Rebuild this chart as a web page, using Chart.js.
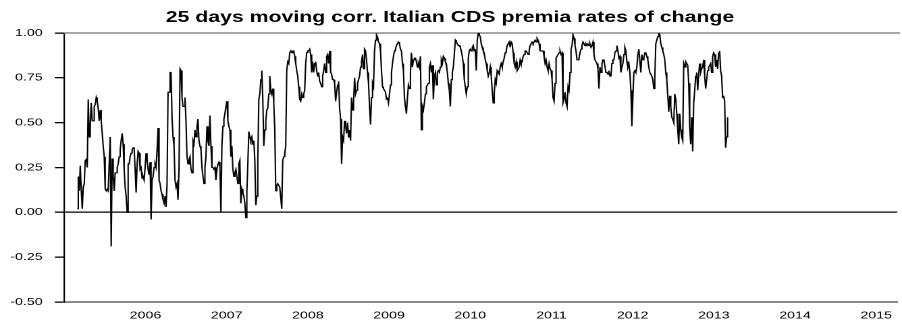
<!DOCTYPE html>
<html>
<head>
<meta charset="utf-8">
<script src="https://cdn.jsdelivr.net/npm/chart.js@4.4.0/dist/chart.umd.min.js"></script>
<style>
  html, body { margin: 0; padding: 0; background: #fff; overflow: hidden; }
  #wrap { position: absolute; left: 0; top: 0; width: 668px; height: 329px;
          transform: scaleX(1.3503); transform-origin: 0 0; }
</style>
</head>
<body>
<div id="wrap"><canvas id="c" width="668" height="329"></canvas></div>
<script>
// 25-day moving correlation of Italian CDS premia rates of change (daily observations)
const chartTitle = '25 days moving corr. Italian CDS premia rates of change';

// first and last observation, as decimal years
const firstObsYear = 2005.16;
const lastObsYear = 2013.17;

const corr2005_2007 = [
  0.02,0.20,0.12,0.26,0.12,0.02,0.14,0.16,0.29,0.30,
  0.25,0.63,0.42,0.48,0.61,0.51,0.51,0.59,0.60,0.64,
  0.62,0.58,0.51,0.57,0.51,0.44,0.37,0.31,0.13,0.12,
  0.13,0.12,0.12,0.42,-0.19,0.30,0.20,0.12,0.22,0.22,
  0.25,0.27,0.31,0.35,0.40,0.44,0.38,0.24,0.14,0.09,
  0.00,0.27,0.27,0.31,0.33,0.35,0.36,0.36,0.24,0.11,
  0.27,0.34,0.33,0.24,0.25,0.19,0.20,0.18,0.25,0.33,
  0.29,0.24,0.21,0.28,-0.04,0.18,0.20,0.25,0.27,0.25,
  0.35,0.47,0.18,0.16,0.12,0.10,0.07,0.05,0.09,0.03,
  0.16,
  0.67,0.67,0.78,0.78,0.53,0.42,0.37,0.18,0.14,0.16,
  0.07,0.24,0.80,0.79,0.64,0.59,0.59,0.64,0.51,0.31,
  0.27,0.29,0.31,0.24,0.22,0.40,0.38,0.46,0.42,0.48,
  0.52,0.40,0.37,0.35,0.25,0.20,0.16,0.25,0.31,0.48,
  0.40,0.37,0.54,0.37,0.25,0.25,0.24,0.25,0.18,0.24,
  0.27,0.28,0.25,0.00,0.37,0.48,0.52,0.55,0.59,0.62,
  0.51,0.48,0.46,0.31,0.37,0.24,0.20,0.22,0.24,0.20,
  0.16,0.27,0.29,0.05,0.13,0.11,0.09,0.05,
  -0.03,0.11,0.27,0.45,0.42,0.40,0.42,0.38,0.40,0.29,
  0.04,0.09,0.29,0.63,0.66,0.74,0.79,0.63,0.37,0.46,
  0.51,0.57,0.58,0.66,0.76,0.68,0.66,0.69,0.61,0.46,
  0.12,0.15,0.16,0.15,0.14,0.14,0.02,0.29,0.31,0.33,
  0.37,0.79,0.84,0.83,0.89,0.90,0.89,0.90,0.90,0.87,
  0.83,0.79,0.76,0.70,0.63,0.62,0.66,0.64,0.66,0.68,
  0.83,0.89,0.90,0.90,0.91
];

const corr2008_2010 = [
  0.88,0.78,0.84,0.78,0.83,0.84,0.79,0.76,0.78,0.73,
  0.72,0.70,0.76,0.79,0.83,0.78,0.87,0.88,0.83,0.90,
  0.78,0.77,0.74,0.74,0.72,0.62,0.67,0.71,0.73,0.58,
  0.52,0.27,0.42,0.40,0.51,0.48,0.44,0.50,0.42,0.46,
  0.40,0.64,0.57,0.61,0.75,0.66,0.68,0.72,0.74,0.76,
  0.81,0.84,0.88,0.80,0.91,0.90,0.85,0.78,0.72,0.59,
  0.49,0.64,0.72,0.70,0.90,0.96,0.99,0.98,0.95,0.94,
  0.90,0.79,0.70,0.69,0.68,0.67,0.63,0.64,0.61,0.66,
  0.71,0.78,0.83,0.87,0.90,0.91,0.93,0.94,0.95,0.94,
  0.91,0.90,0.83,0.79,0.64,0.59,0.55,0.64,0.71,0.69,
  0.78,0.89,0.81,0.85,0.86,0.86,0.84,0.81,0.83,0.81,
  0.87,0.46,0.59,0.57,0.61,0.66,0.70,0.71,0.72,0.81,
  0.83,0.78,0.82,0.63,0.76,0.78,0.71,0.78,0.79,0.78,
  0.81,0.85,0.83,0.87,0.86,0.84,0.83,0.78,0.72,0.68,
  0.59,0.74,0.78,0.81,0.88,0.96,0.95,0.94,0.93,0.93,
  0.92,0.90,0.87,0.83,0.74,0.70,0.66,0.70,0.86,0.90,
  0.91,0.90,0.92,0.93,0.90,0.91,0.79,0.96,1.00,0.99,
  0.98,0.94,0.92,0.90,0.89,0.85,0.83,0.79,0.76,0.78,
  0.81,0.76,0.68,0.61,0.66,0.74,0.72,0.79,0.78,0.77,
  0.81,0.83,0.81,0.84,0.86,0.89,0.90,0.93,0.94,0.95,
  0.92,0.95,0.94,0.89,0.83,0.81,0.84,0.79,0.80,0.81,
  0.85,0.83,0.84,0.87,0.88,0.90,0.90,0.89,0.88,0.90,
  0.93,0.94,0.95,0.94,0.95,0.96,0.95,0.97,0.96,0.94,
  0.90,0.90,0.90,0.90,0.87,0.83,0.85,0.81,0.79,0.83,
  0.80
];

const corr2011_2013 = [
  0.79,0.74,0.64,0.62,0.72,0.86,0.87,0.88,0.89,0.90,
  0.88,0.89,0.61,0.63,0.67,0.61,0.59,0.70,0.68,0.78,
  0.91,0.93,0.99,0.97,0.93,0.90,0.85,0.85,0.86,0.89,
  0.91,0.93,0.95,0.94,0.93,0.94,0.93,0.94,0.93,0.94,
  0.92,0.93,0.95,0.88,0.85,0.84,0.83,0.80,0.69,0.81,
  0.78,0.83,0.85,0.85,0.85,0.78,0.78,0.77,0.79,0.76,
  0.76,0.83,0.85,0.85,0.89,0.90,0.93,0.90,0.86,0.87,
  0.78,0.81,0.83,0.88,0.92,0.90,0.84,0.81,0.83,0.78,
  0.68,0.48,0.64,0.78,0.79,0.78,0.81,0.88,0.91,0.91,
  0.78,0.88,0.85,0.86,0.89,0.89,0.87,0.85,0.81,0.78,
  0.78,0.76,0.74,0.69,0.75,0.94,0.96,0.98,1.00,0.99,
  0.94,0.92,0.90,0.88,0.85,0.78,0.74,0.65,0.56,0.65,
  0.59,0.53,0.52,0.50,0.66,0.63,0.55,0.46,0.38,0.55,
  0.46,0.42,0.40,0.83,0.81,0.84,0.83,0.82,0.72,0.48,
  0.38,0.53,0.34,0.61,0.68,0.76,0.78,0.68,0.77,0.83,
  0.78,0.80,0.81,0.85,0.76,0.69,0.74,0.79,0.81,0.82,
  0.83,0.78,0.87,0.89,0.88,0.81,0.85,0.80,0.89,0.90,
  0.79,0.76,0.64,0.65,0.62,0.36,0.42,0.53
];

// axis labels
const yearTicks = [2006, 2007, 2008, 2009, 2010, 2011, 2012, 2013, 2014, 2015];
const yTicks = [-0.50, -0.25, 0.00, 0.25, 0.50, 0.75, 1.00];

const corr = [...corr2005_2007, ...corr2008_2010, ...corr2011_2013];
const obsStep = (lastObsYear - firstObsYear) / (corr.length - 1);
const series = corr.map((v, i) => ({ x: firstObsYear + i * obsStep, y: v }));

const FONT = "'Liberation Sans', Arial, Helvetica, sans-serif";

// grey line along the top of the plot area
const topFrame = {
  id: 'topFrame',
  beforeDatasetsDraw(chart) {
    const { ctx, chartArea: a } = chart;
    ctx.save();
    ctx.strokeStyle = '#8a8a8a';
    ctx.lineWidth = 1.5;
    ctx.beginPath();
    ctx.moveTo(a.left, a.top);
    ctx.lineTo(a.right + 2, a.top);
    ctx.stroke();
    ctx.restore();
  }
};

new Chart(document.getElementById('c'), {
  type: 'line',
  data: {
    datasets: [{
      data: series,
      borderColor: '#000',
      borderWidth: 1.05,
      pointRadius: 0,
      tension: 0,
      fill: false
    }]
  },
  options: {
    responsive: false,
    devicePixelRatio: 2,
    animation: false,
    layout: { padding: { left: 0, right: 1.5, top: 0, bottom: 0 } },
    plugins: {
      legend: { display: false },
      tooltip: { enabled: false },
      title: {
        display: true,
        text: chartTitle,
        color: '#000',
        font: { family: FONT, size: 15.75, weight: 'bold' },
        padding: { top: 8.3, bottom: 5.8 }
      }
    },
    scales: {
      x: {
        type: 'linear',
        min: 2005,
        max: 2015.26,
        afterFit: s => { s.height = 27; },
        afterBuildTicks: s => { s.ticks = yearTicks.map(v => ({ value: v })); },
        grid: { display: false, drawTicks: false },
        border: { display: true, color: '#8a8a8a', width: 2 },
        ticks: {
          color: '#000',
          font: { family: FONT, size: 10.5 },
          padding: 7.4,
          maxRotation: 0,
          autoSkip: false,
          callback: v => String(v)
        }
      },
      y: {
        min: -0.5,
        max: 1.0,
        afterFit: s => { s.width = 47.6; },
        afterBuildTicks: s => { s.ticks = yTicks.map(v => ({ value: v })); },
        grid: {
          drawOnChartArea: true,
          color: c => (c.tick && c.tick.value === 0 ? '#000' : 'rgba(0,0,0,0)'),
          lineWidth: 1.3,
          tickColor: '#000',
          tickLength: 7
        },
        border: { display: true, color: '#000', width: 1.1 },
        ticks: {
          color: '#000',
          font: { family: FONT, size: 10.5 },
          padding: 9,
          callback: v => Number(v).toFixed(2)
        }
      }
    }
  },
  plugins: [topFrame]
});
</script>
</body>
</html>
